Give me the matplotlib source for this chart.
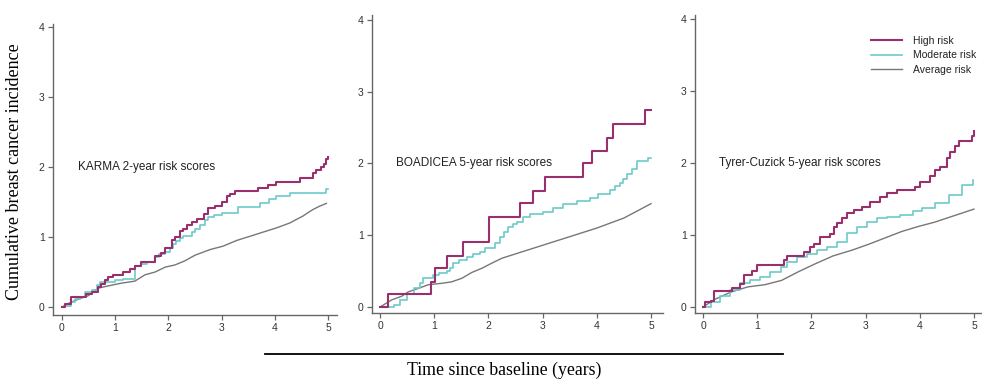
import matplotlib
matplotlib.use("Agg")
import matplotlib.pyplot as plt
from matplotlib.lines import Line2D

# ---------------- data ----------------
panel_titles = ["KARMA 2-year risk scores", "BOADICEA 5-year risk scores",
                "Tyrer-Cuzick 5-year risk scores"]
series_names = ["High risk", "Moderate risk", "Average risk"]
x_ticks = [0, 1, 2, 3, 4, 5]
y_ticks = [0, 1, 2, 3, 4]

# KARMA
karma_high_x = [0, 0.05, 0.17, 0.46, 0.56, 0.68, 0.74, 0.80, 0.86, 0.96, 1.15, 1.28, 1.37, 1.48,
                1.75, 1.86, 1.94, 2.06, 2.12, 2.22, 2.28, 2.35, 2.45, 2.53, 2.66, 2.75, 2.88,
                3.0, 3.1, 3.16, 3.25, 3.69, 3.88, 4.02, 4.47, 4.71, 4.77, 4.86, 4.92, 4.97, 5.0]
karma_high_y = [0, 0.05, 0.14, 0.18, 0.22, 0.29, 0.33, 0.39, 0.43, 0.46, 0.50, 0.54, 0.59, 0.65,
                0.73, 0.77, 0.84, 0.96, 1.0, 1.08, 1.12, 1.17, 1.22, 1.26, 1.33, 1.41, 1.45,
                1.5, 1.58, 1.62, 1.66, 1.70, 1.74, 1.79, 1.85, 1.91, 1.96, 2.0, 2.05, 2.12, 2.15]
karma_mod_x = [0, 0.06, 0.17, 0.24, 0.34, 0.43, 0.56, 0.65, 0.71, 1.0, 1.15, 1.37, 1.48, 1.6,
               1.75, 1.82, 1.94, 2.03, 2.09, 2.15, 2.22, 2.28, 2.45, 2.5, 2.6, 2.69, 2.75, 2.85,
               3.0, 3.3, 3.72, 3.9, 4.02, 4.28, 4.97, 5.0]
karma_mod_y = [0, 0.02, 0.07, 0.12, 0.15, 0.22, 0.24, 0.31, 0.36, 0.38, 0.40, 0.58, 0.61, 0.65,
               0.71, 0.76, 0.79, 0.85, 0.9, 0.95, 0.98, 1.02, 1.07, 1.12, 1.17, 1.24, 1.28, 1.31,
               1.34, 1.43, 1.49, 1.54, 1.58, 1.63, 1.68, 1.68]
karma_avg_x = [0, 0.17, 0.37, 0.49, 0.68, 0.86, 1.11, 1.37, 1.56, 1.75, 1.94, 2.12, 2.31, 2.5,
               2.78, 3.03, 3.28, 3.53, 3.78, 4.03, 4.28, 4.53, 4.71, 4.84, 4.97]
karma_avg_y = [0, 0.07, 0.13, 0.16, 0.27, 0.30, 0.34, 0.37, 0.46, 0.50, 0.57, 0.60, 0.66, 0.74,
               0.82, 0.87, 0.95, 1.01, 1.07, 1.13, 1.20, 1.30, 1.39, 1.44, 1.48]

# BOADICEA
boad_high_x = [0, 0.15, 0.94, 1.02, 1.24, 1.54, 2.01, 2.59, 2.83, 3.05, 3.74, 3.91, 4.19, 4.29,
               4.88, 5.0]
boad_high_y = [0, 0.18, 0.35, 0.54, 0.71, 0.90, 1.26, 1.45, 1.62, 1.81, 2.00, 2.18, 2.36, 2.55,
               2.74, 2.74]
boad_mod_x = [0, 0.25, 0.37, 0.49, 0.62, 0.74, 0.8, 0.98, 1.08, 1.23, 1.29, 1.35, 1.45, 1.6,
              1.72, 1.84, 1.94, 2.12, 2.21, 2.28, 2.37, 2.46, 2.52, 2.64, 2.77, 3.01, 3.2, 3.38,
              3.63, 3.88, 4.03, 4.24, 4.34, 4.43, 4.49, 4.55, 4.64, 4.74, 4.95, 5.0]
boad_mod_y = [0, 0.03, 0.10, 0.18, 0.26, 0.34, 0.40, 0.45, 0.47, 0.50, 0.54, 0.61, 0.66, 0.70,
              0.74, 0.76, 0.82, 0.89, 0.98, 1.05, 1.12, 1.16, 1.19, 1.26, 1.30, 1.33, 1.38, 1.44,
              1.48, 1.52, 1.58, 1.63, 1.68, 1.73, 1.79, 1.86, 1.93, 2.03, 2.07, 2.07]
boad_avg_x = [0, 0.22, 0.4, 0.52, 0.71, 0.89, 1.14, 1.32, 1.51, 1.69, 1.88, 2.06, 2.25, 2.5, 3.0,
              3.5, 4.0, 4.5, 4.8, 5.0]
boad_avg_y = [0, 0.10, 0.15, 0.21, 0.26, 0.31, 0.33, 0.35, 0.40, 0.48, 0.54, 0.61, 0.68, 0.74,
              0.86, 0.98, 1.10, 1.24, 1.36, 1.44]

# Tyrer-Cuzick
tc_high_x = [0, 0.04, 0.14, 0.2, 0.53, 0.69, 0.75, 0.9, 1.0, 1.49, 1.55, 1.87, 1.98, 2.05, 2.16,
             2.35, 2.41, 2.47, 2.56, 2.65, 2.78, 2.93, 3.08, 3.27, 3.39, 3.58, 3.91, 4.0, 4.19,
             4.28, 4.37, 4.5, 4.56, 4.65, 4.73, 4.96, 5.0]
tc_high_y = [0, 0.07, 0.09, 0.22, 0.27, 0.32, 0.44, 0.50, 0.58, 0.65, 0.71, 0.77, 0.84, 0.88, 0.97,
             1.02, 1.11, 1.17, 1.23, 1.30, 1.35, 1.39, 1.46, 1.53, 1.58, 1.62, 1.67, 1.74, 1.82,
             1.90, 1.95, 2.07, 2.16, 2.23, 2.31, 2.37, 2.45]
tc_mod_x = [0, 0.14, 0.32, 0.5, 0.69, 0.87, 1.06, 1.24, 1.43, 1.55, 1.73, 1.92, 2.1, 2.29, 2.47,
            2.65, 2.84, 3.02, 3.21, 3.39, 3.64, 3.88, 4.04, 4.28, 4.53, 4.77, 4.99]
tc_mod_y = [0, 0.07, 0.16, 0.24, 0.33, 0.37, 0.42, 0.49, 0.56, 0.63, 0.69, 0.73, 0.79, 0.84, 0.91,
            1.03, 1.11, 1.18, 1.23, 1.25, 1.28, 1.34, 1.37, 1.45, 1.56, 1.69, 1.77]
tc_avg_x = [0, 0.2, 0.52, 0.83, 1.14, 1.45, 1.76, 2.07, 2.4, 2.75, 3.05, 3.36, 3.67, 3.98, 4.28,
            4.6, 5.0]
tc_avg_y = [0, 0.10, 0.21, 0.28, 0.31, 0.37, 0.49, 0.60, 0.71, 0.79, 0.87, 0.96, 1.05, 1.12, 1.18,
            1.26, 1.36]

panels = [
    (karma_high_x, karma_high_y, karma_mod_x, karma_mod_y, karma_avg_x, karma_avg_y),
    (boad_high_x, boad_high_y, boad_mod_x, boad_mod_y, boad_avg_x, boad_avg_y),
    (tc_high_x, tc_high_y, tc_mod_x, tc_mod_y, tc_avg_x, tc_avg_y),
]

# ---------------- style ----------------
c_high = "#9a2f6e"
c_mod = "#6ccaca"
c_avg = "#777777"
axis_col = "#666666"

W, H = 982, 379
fig = plt.figure(figsize=(W / 100, H / 100), dpi=100)

# axes boxes in pixels: (left, right, top, bottom) and limits
boxes = [
    (53, 337, 24, 315, (-0.169, 5.169), (-0.114, 4.043)),
    (372, 663, 15, 313, (-0.148, 5.221), (-0.084, 4.07)),
    (695, 982, 15, 313, (-0.148, 5.148), (-0.083, 4.056)),
]

axes = []
for (l, r, t, b, xl, yl), data, title in zip(boxes, panels, panel_titles):
    ax = fig.add_axes([l / W, (H - b) / H, (r - l) / W, (b - t) / H])
    hx, hy, mx, my, ax_, ay = data
    ax.plot(ax_, ay, color=c_avg, lw=1.0, label=series_names[2], zorder=2)
    ax.step(mx, my, where="post", color=c_mod, lw=1.2, label=series_names[1], zorder=3)
    ax.step(hx, hy, where="post", color=c_high, lw=1.5, label=series_names[0], zorder=4)
    ax.set_xlim(*xl)
    ax.set_ylim(*yl)
    ax.set_xticks(x_ticks)
    ax.set_yticks(y_ticks)
    for s in ["top", "right"]:
        ax.spines[s].set_visible(False)
    for s in ["left", "bottom"]:
        ax.spines[s].set_color(axis_col)
        ax.spines[s].set_linewidth(1.0)
    ax.tick_params(direction="out", length=3.5, width=0.9, color=axis_col,
                   labelsize=7.5, labelcolor="#333333", pad=2.5,
                   labelfontfamily="Liberation Sans")
    ax.text(0.3, 2.0, title, fontsize=8.5, family="Liberation Sans", color="#222222",
            va="center", ha="left")
    ax.patch.set_alpha(0)
    axes.append(ax)

# legend in the third panel
handles = [Line2D([0], [0], color=c_high, lw=1.5),
           Line2D([0], [0], color=c_mod, lw=1.2),
           Line2D([0], [0], color=c_avg, lw=1.0)]
leg = fig.legend(handles, series_names, loc="upper left",
                 bbox_to_anchor=(871 / W, 1 - 36 / H), frameon=False,
                 prop={"family": "Liberation Sans", "size": 7.5},
                 handlelength=3.0, handletextpad=1.0, labelspacing=0.42,
                 borderpad=0, borderaxespad=0)
for t in leg.get_texts():
    t.set_color("#222222")

# y label
fig.text(15 / W, 1 - 171.5 / H, "Cumulative breast cancer incidence", rotation=90,
         family="Liberation Serif", fontsize=13, va="center", ha="center", color="black")

# x label with line
fig.add_artist(Line2D([265 / W, 783 / W], [1 - 354 / H, 1 - 354 / H],
                      color="black", lw=1.3, transform=fig.transFigure))
fig.text(504 / W, 1 - 370 / H, "Time since baseline (years)", family="Liberation Serif",
         fontsize=12.8, va="center", ha="center", color="black")

fig.savefig("out.png", dpi=100)
